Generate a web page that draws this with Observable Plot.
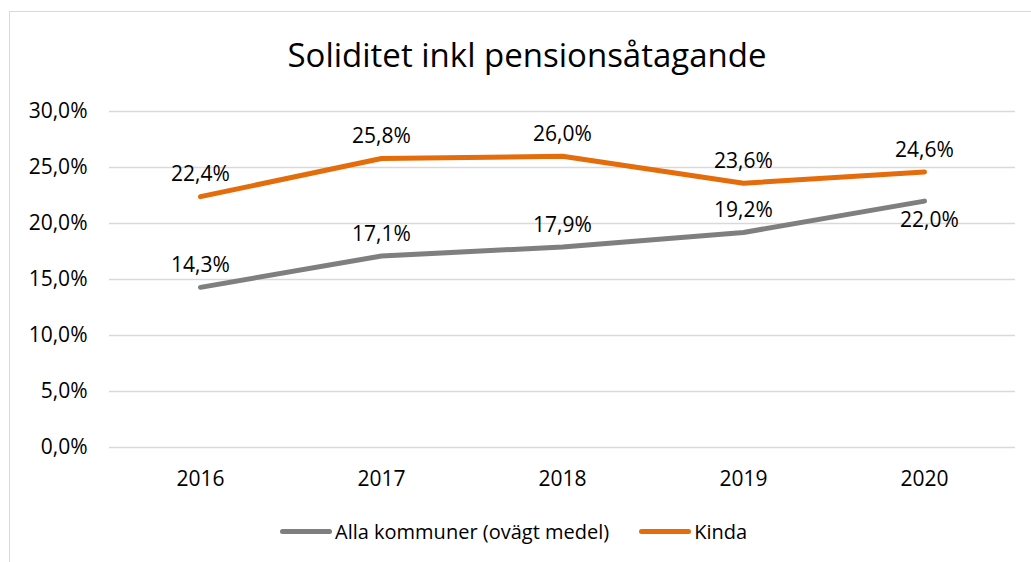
<!DOCTYPE html>
<html>
<head>
<meta charset="utf-8">
<script src="https://cdn.jsdelivr.net/npm/d3@7"></script>
<script src="https://cdn.jsdelivr.net/npm/@observablehq/plot@0.6"></script>
<style>
  html, body { margin: 0; padding: 0; background: #fff; }
  #wrap { position: relative; width: 1031px; height: 562px; overflow: hidden; font-family: "Open Sans", sans-serif; }
  #frame { position: absolute; left: 9px; top: 11px; width: 1040px; height: 600px; border: 1.5px solid #d9d9d9; box-sizing: border-box; }
  #title { position: absolute; left: 0; width: 1054px; top: 38px; text-align: center; font-size: 33px; color: #000; line-height: 1; }
  #chart { position: absolute; left: 0; top: 0; }
  #legend { position: absolute; top: 518px; left: 280px; display: flex; align-items: center; font-size: 20px; color: #000; }
  .item { display: flex; align-items: center; }
  .sw { width: 52px; height: 5px; border-radius: 3px; margin-right: 3px; }
</style>
</head>
<body>
<div id="wrap">
  <div id="frame"></div>
  <div id="chart"></div>
  <div id="title">Soliditet inkl pensionsåtagande</div>
  <div id="legend"></div>
</div>
<script>
const years = ["2016", "2017", "2018", "2019", "2020"];
const seriesNames = ["Alla kommuner (ovägt medel)", "Kinda"];
const allaValues = [14.3, 17.1, 17.9, 19.2, 22.0];
const kindaValues = [22.4, 25.8, 26.0, 23.6, 24.6];
const yTicks = [0, 5, 10, 15, 20, 25, 30];
const colors = ["#7f7f7f", "#e46c0a"];

const fmt = v => v.toFixed(1).replace(".", ",") + "%";

const data = [];
years.forEach((y, i) => {
  data.push({year: y, series: seriesNames[0], value: allaValues[i], below: i === 4});
  data.push({year: y, series: seriesNames[1], value: kindaValues[i], below: false});
});

const plot = Plot.plot({
  width: 1031,
  height: 500,
  marginLeft: 109,
  marginRight: 16,
  marginTop: 111,
  marginBottom: 53,
  style: {fontFamily: "Open Sans, sans-serif", fontSize: "21px", color: "#000", background: "transparent", overflow: "visible"},
  x: {type: "point", domain: years, padding: 0.5, label: null},
  y: {domain: [0, 30], ticks: yTicks, tickFormat: fmt, label: null},
  color: {domain: seriesNames, range: colors},
  marks: [
    Plot.ruleY(yTicks, {stroke: "#d9d9d9", strokeWidth: 1.5, strokeOpacity: 1}),
    Plot.axisY({ticks: yTicks, tickFormat: fmt, tickSize: 0, tickPadding: 22, label: null, fill: "#000", fontSize: 21}),
    Plot.axisX({tickSize: 0, tickPadding: 24, label: null, fill: "#000", fontSize: 21}),
    Plot.line(data, {x: "year", y: "value", z: "series", stroke: "series", strokeWidth: 5, strokeLinecap: "round", strokeLinejoin: "round"}),
    Plot.text(data.filter(d => !d.below), {x: "year", y: "value", text: d => fmt(d.value), dy: -22, fill: "#000", fontSize: 21}),
    Plot.text(data.filter(d => d.below), {x: "year", y: "value", text: d => fmt(d.value), dy: 19, dx: 5, fill: "#000", fontSize: 21})
  ]
});
document.getElementById("chart").appendChild(plot);

const legend = document.getElementById("legend");
seriesNames.forEach((name, i) => {
  const item = document.createElement("div");
  item.className = "item";
  if (i > 0) item.style.marginLeft = "30px";
  const sw = document.createElement("div");
  sw.className = "sw";
  sw.style.background = colors[i];
  const t = document.createElement("span");
  t.textContent = name;
  item.appendChild(sw);
  item.appendChild(t);
  legend.appendChild(item);
});
</script>
</body>
</html>
